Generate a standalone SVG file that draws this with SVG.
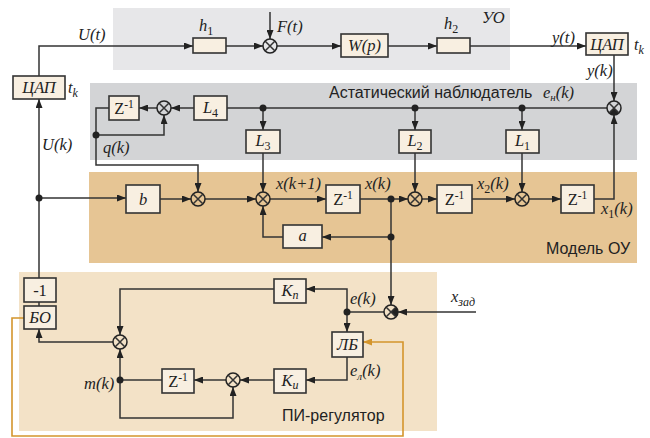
<svg xmlns="http://www.w3.org/2000/svg" width="650" height="438" viewBox="0 0 650 438">
<defs>
<marker id="ar" markerWidth="9" markerHeight="7" refX="9" refY="3.5" orient="auto" markerUnits="userSpaceOnUse"><path d="M0,0 L9,3.5 L0,7 z" fill="#222"/></marker>
<marker id="aro" markerWidth="9" markerHeight="7" refX="9" refY="3.5" orient="auto" markerUnits="userSpaceOnUse"><path d="M0,0 L9,3.5 L0,7 z" fill="#d4952c"/></marker>
</defs>
<style>
.box{fill:#f8efe1;stroke:#333;stroke-width:1.6}
.ln{fill:none;stroke:#333;stroke-width:1.5}
.arr{marker-end:url(#ar)}
.or{fill:none;stroke:#d4952c;stroke-width:1.6}
.jc{fill:#fff;fill-opacity:0;stroke:#222;stroke-width:1.5}
.m{font-family:"Liberation Serif",serif;font-style:italic;font-size:16.5px;fill:#222}
.u{font-family:"Liberation Serif",serif;font-size:16.5px;fill:#222}
.s{font-family:"Liberation Sans",Arial,sans-serif;font-size:16px;fill:#222}
.dot{fill:#222}
</style>
<!-- panels -->
<rect x="113" y="8" width="397" height="62" fill="#e7e7e9"/>
<rect x="90" y="83" width="547" height="77" fill="#d3d4d6"/>
<rect x="89" y="172" width="548" height="91" fill="#e6c594"/>
<rect x="19" y="272" width="418" height="159" fill="#f3e2c7"/>
<g id="connectors">
<path class="ln arr" d="M39,76 V46 H193"/>
<path class="ln arr" d="M226,46 H263"/>
<path class="ln arr" d="M270,12 V39"/>
<path class="ln arr" d="M277,46 H341"/>
<path class="ln arr" d="M388,46 H437"/>
<path class="ln arr" d="M470,46 H586"/>
<path class="ln arr" d="M614,55 V101"/>
<path class="ln arr" d="M594,199 H614 V115"/>
<path class="ln" d="M607,108 H227"/>
<path class="ln arr" d="M194,108 H171"/>
<path class="ln arr" d="M157,108 H139"/>
<path class="ln arr" d="M109,108 H96 V165 H198 V192"/>
<path class="ln arr" d="M96,135 H164 V115"/>
<path class="ln arr" d="M263,108 V130"/>
<path class="ln arr" d="M415,108 V130"/>
<path class="ln arr" d="M522,108 V130"/>
<path class="ln arr" d="M263,153 V192"/>
<path class="ln arr" d="M415,153 V192"/>
<path class="ln arr" d="M522,153 V192"/>
<path class="ln arr" d="M39,278 V99"/>
<path class="ln arr" d="M39,198 H126"/>
<path class="ln arr" d="M160,199 H191"/>
<path class="ln arr" d="M205,199 H256"/>
<path class="ln arr" d="M270,199 H326"/>
<path class="ln arr" d="M360,199 H408"/>
<path class="ln arr" d="M422,199 H437"/>
<path class="ln arr" d="M472,199 H515"/>
<path class="ln arr" d="M529,199 H561"/>
<path class="ln arr" d="M391,199 V305"/>
<path class="ln arr" d="M391,237 H322"/>
<path class="ln arr" d="M283,237 H263 V206"/>
<path class="ln arr" d="M476,312 H398"/>
<path class="ln" d="M384,312 H347"/>
<path class="ln arr" d="M347,312 V289 H306"/>
<path class="ln arr" d="M347,312 V332"/>
<path class="ln arr" d="M274,289 H120 V335"/>
<path class="ln arr" d="M113,342 H39 V329"/>
<path class="ln" d="M39,302 V306"/>
<path class="ln" d="M162,380 H120"/>
<path class="ln arr" d="M120,380 V349"/>
<path class="ln arr" d="M120,380 V418 H233 V387"/>
<path class="ln arr" d="M226,380 H194"/>
<path class="ln arr" d="M274,380 H240"/>
<path class="ln arr" d="M347,357 V380 H306"/>
<path class="or" marker-end="url(#aro)" d="M24,318 H12 V436 H403 V342 H363"/>
<circle class="dot" cx="39" cy="198" r="3.5"/>
<circle class="dot" cx="96" cy="135" r="3.5"/>
<circle class="dot" cx="263" cy="108" r="3.5"/>
<circle class="dot" cx="415" cy="108" r="3.5"/>
<circle class="dot" cx="522" cy="108" r="3.5"/>
<circle class="dot" cx="391" cy="199" r="3.5"/>
<circle class="dot" cx="391" cy="237" r="3.5"/>
<circle class="dot" cx="347" cy="312" r="3.5"/>
<circle class="dot" cx="120" cy="380" r="3.5"/>
</g>
<!-- junctions -->
<g id="jF"><circle class="jc" cx="270" cy="46" r="7"/><path class="ln" d="M265,41 L275,51 M275,41 L265,51"/></g>
<g id="jO"><circle class="jc" cx="164" cy="108" r="7"/><path class="ln" d="M159,103 L169,113 M169,103 L159,113"/></g>
<g id="jE"><path d="M614,108 L619,113 A7,7 0 0 1 609,113 Z" fill="#222"/><circle class="jc" cx="614" cy="108" r="7"/><path class="ln" d="M609,103 L619,113 M619,103 L609,113"/></g>
<g id="j1"><circle class="jc" cx="198" cy="199" r="7"/><path class="ln" d="M193,194 L203,204 M203,194 L193,204"/></g>
<g id="j2"><circle class="jc" cx="263" cy="199" r="7"/><path class="ln" d="M258,194 L268,204 M268,194 L258,204"/></g>
<g id="j3"><circle class="jc" cx="415" cy="199" r="7"/><path class="ln" d="M410,194 L420,204 M420,194 L410,204"/></g>
<g id="j4"><circle class="jc" cx="522" cy="199" r="7"/><path class="ln" d="M517,194 L527,204 M527,194 L517,204"/></g>
<g id="jX"><path d="M391,312 L396,307 A7,7 0 0 1 396,317 Z" fill="#222"/><circle class="jc" cx="391" cy="312" r="7"/><path class="ln" d="M386,307 L396,317 M396,307 L386,317"/></g>
<g id="j5"><circle class="jc" cx="120" cy="342" r="7"/><path class="ln" d="M115,337 L125,347 M125,337 L115,347"/></g>
<g id="j6"><circle class="jc" cx="233" cy="380" r="7"/><path class="ln" d="M228,375 L238,385 M238,375 L228,385"/></g>
<!-- boxes -->
<g id="dacL"><rect class="box" x="13" y="76" width="52" height="23"/><text class="m" x="39" y="93" text-anchor="middle">ЦАП</text></g>
<g id="h1"><rect class="box" x="193" y="38" width="33" height="15"/></g>
<g id="Wp"><rect class="box" x="341" y="34" width="47" height="23"/><text class="m" x="364.5" y="51" text-anchor="middle">W(p)</text></g>
<g id="h2"><rect class="box" x="437" y="38" width="33" height="15"/></g>
<g id="dacR"><rect class="box" x="586" y="33" width="42" height="22"/><text class="m" x="607" y="49.5" text-anchor="middle">ЦАП</text></g>
<g id="zO"><rect class="box" x="109" y="96" width="30" height="24"/><text class="u" x="124" y="114" text-anchor="middle">Z<tspan font-size="11.5" dy="-6">-1</tspan></text></g>
<g id="L4"><rect class="box" x="194" y="96" width="33" height="24"/><text class="m" x="210.5" y="113" text-anchor="middle">L<tspan font-size="12" font-style="normal" dy="4">4</tspan></text></g>
<g id="L3"><rect class="box" x="246" y="130" width="34" height="23"/><text class="m" x="263" y="146" text-anchor="middle">L<tspan font-size="12" font-style="normal" dy="4">3</tspan></text></g>
<g id="L2"><rect class="box" x="399" y="130" width="32" height="23"/><text class="m" x="415" y="146" text-anchor="middle">L<tspan font-size="12" font-style="normal" dy="4">2</tspan></text></g>
<g id="L1"><rect class="box" x="506" y="130" width="33" height="23"/><text class="m" x="522.5" y="146" text-anchor="middle">L<tspan font-size="12" font-style="normal" dy="4">1</tspan></text></g>
<g id="b"><rect class="box" x="126" y="185" width="34" height="28"/><text class="m" x="143" y="205" text-anchor="middle">b</text></g>
<g id="a"><rect class="box" x="283" y="225" width="39" height="23"/><text class="m" x="302.5" y="241" text-anchor="middle">a</text></g>
<g id="z1"><rect class="box" x="326" y="185" width="34" height="28"/><text class="u" x="343" y="205" text-anchor="middle">Z<tspan font-size="11.5" dy="-6">-1</tspan></text></g>
<g id="z2"><rect class="box" x="437" y="185" width="35" height="28"/><text class="u" x="454.5" y="205" text-anchor="middle">Z<tspan font-size="11.5" dy="-6">-1</tspan></text></g>
<g id="z3"><rect class="box" x="561" y="185" width="33" height="28"/><text class="u" x="577.5" y="205" text-anchor="middle">Z<tspan font-size="11.5" dy="-6">-1</tspan></text></g>
<g id="neg"><rect class="box" x="24" y="278" width="32" height="24"/><text class="u" x="40" y="295.5" text-anchor="middle">-1</text></g>
<g id="BO"><rect class="box" x="24" y="306" width="32" height="23"/><text class="m" x="40" y="323" text-anchor="middle">БО</text></g>
<g id="Kp"><rect class="box" x="274" y="279" width="32" height="24"/><text class="m" x="290" y="296" text-anchor="middle">K<tspan font-size="12" dy="3">п</tspan></text></g>
<g id="LB"><rect class="box" x="332" y="332" width="31" height="25"/><text class="m" x="347.5" y="350" text-anchor="middle">ЛБ</text></g>
<g id="zP"><rect class="box" x="162" y="369" width="32" height="24"/><text class="u" x="178" y="387" text-anchor="middle">Z<tspan font-size="11.5" dy="-6">-1</tspan></text></g>
<g id="Ki"><rect class="box" x="274" y="369" width="32" height="24"/><text class="m" x="290" y="386" text-anchor="middle">K<tspan font-size="12" dy="3">и</tspan></text></g>
<!-- labels -->
<g id="labels">
<text class="m" x="78" y="40">U(t)</text>
<text class="m" x="68" y="93">t<tspan font-size="12" dy="4">k</tspan></text>
<text class="m" x="42" y="150">U(k)</text>
<text class="m" x="103" y="153">q(k)</text>
<text class="m" x="199" y="31">h<tspan font-size="12" font-style="normal" dy="4">1</tspan></text>
<text class="m" x="277" y="32">F(t)</text>
<text class="m" x="444" y="29">h<tspan font-size="12" font-style="normal" dy="4">2</tspan></text>
<text class="m" x="482" y="23">УО</text>
<text class="m" x="552" y="43">y(t)</text>
<text class="m" x="634" y="50">t<tspan font-size="12" dy="4">k</tspan></text>
<text class="m" x="587" y="76">y(k)</text>
<text class="s" x="329" y="98">Астатический наблюдатель</text>
<text class="m" x="543" y="98">e<tspan font-size="11" dy="3">н</tspan><tspan dy="-3">(k)</tspan></text>
<text class="m" x="276" y="189">x(k+1)</text>
<text class="m" x="365" y="189">x(k)</text>
<text class="m" x="477" y="189">x<tspan font-size="12" font-style="normal" dy="4">2</tspan><tspan dy="-4">(k)</tspan></text>
<text class="m" x="601" y="214">x<tspan font-size="12" font-style="normal" dy="4">1</tspan><tspan dy="-4">(k)</tspan></text>
<text class="s" x="546" y="254">Модель ОУ</text>
<text class="m" x="350" y="304">e(k)</text>
<text class="m" x="451" y="302">x<tspan font-size="12" dy="4">зад</tspan></text>
<text class="m" x="350" y="376">e<tspan font-size="11" dy="4">л</tspan><tspan dy="-4">(k)</tspan></text>
<text class="m" x="84" y="389">m(k)</text>
<text class="s" x="282" y="421">ПИ-регулятор</text>
</g>
</svg>
